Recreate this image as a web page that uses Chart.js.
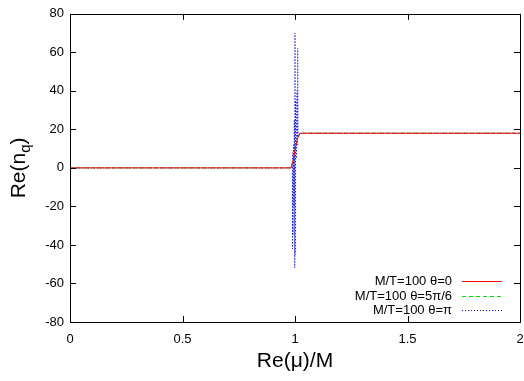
<!DOCTYPE html>
<html>
<head>
<meta charset="utf-8">
<script src="https://cdn.jsdelivr.net/npm/chart.js@4/dist/chart.umd.min.js"></script>
<style>
	body { margin: 0; background: #fff; }
</style>
</head>
<body>
<canvas id="myChart" width="524" height="381"></canvas>
<script>
// Data
var xTicks  = [0, 0.5, 1, 1.5, 2];
var yTicks  = [-80, -60, -40, -20, 0, 20, 40, 60, 80];

var labels  = ['M/T=100 \u03b8=0', 'M/T=100 \u03b8=5\u03c0/6', 'M/T=100 \u03b8=\u03c0'];
var colors  = ['#ff0000', '#00dd00', '#0000ff'];
var dashes  = [[], [4, 3], [1, 2]];

// theta = 0
var muRed   = [0, 0.982, 0.99, 1.0, 1.01, 1.022, 2];
var nRed    = [0, 0,     3,    9,   15,   18,    18];

// theta = 5pi/6
var muGreen = [0, 0.982, 0.99, 1.0, 1.01, 1.022, 2];
var nGreen  = [0, 0,     3.5,  9.5, 15,   18,    18];

// theta = pi (oscillates near mu = M)
var muBlue  = [0, 0.985, 0.988, 0.989, 0.990, 0.991, 0.993, 0.995, 0.997, 0.999, 1.000, 1.001, 1.003, 1.006, 1.009, 1.011, 1.012, 1.014, 1.018, 1.022, 2];
var nBlue   = [0, 0,     1,     -42,   8,     -35,   12,    -20,   25,    -52,   70,    -45,   35,    5,     40,    12,    62,    16,    17,    18,    18];

var FONT = "'Liberation Sans', Arial, sans-serif";

function pts(xs, ys) {
	return xs.map((v, i) => ({ x: v, y: ys[i] }));
}

// gnuplot style frame, inward ticks, legend and axis titles
var gnuplotBits = {
	id : 'gnuplotBits',
	afterDraw(chart) {
		var ctx = chart.ctx;
		var a   = chart.chartArea;
		var sx  = chart.scales.x;
		var sy  = chart.scales.y;

		ctx.save();
		ctx.strokeStyle = '#000';
		ctx.lineWidth   = 1;
		ctx.strokeRect(Math.round(a.left) + 0.5, Math.round(a.top) + 0.5,
			Math.round(a.right - a.left), Math.round(a.bottom - a.top));

		ctx.beginPath();
		xTicks.forEach(v => {
			var px = Math.round(sx.getPixelForValue(v)) + 0.5;
			ctx.moveTo(px, a.bottom); ctx.lineTo(px, a.bottom - 6);
			ctx.moveTo(px, a.top);    ctx.lineTo(px, a.top + 6);
		});
		yTicks.forEach(v => {
			var py = Math.round(sy.getPixelForValue(v)) + 0.5;
			ctx.moveTo(a.left, py);  ctx.lineTo(a.left + 6, py);
			ctx.moveTo(a.right, py); ctx.lineTo(a.right - 6, py);
		});
		ctx.stroke();

		// legend, bottom right inside the frame
		ctx.font = '13px ' + FONT;
		ctx.textAlign = 'right';
		ctx.textBaseline = 'middle';
		labels.forEach((txt, i) => {
			var ly = Math.round(a.bottom - 41 + i * 14.5);
			ctx.fillStyle = '#000';
			ctx.fillText(txt, a.right - 68, ly);
			if (i === 0) {
				ctx.fillStyle = colors[i];
				ctx.fillRect(a.right - 58, ly, 40, 1);
			} else {
				ctx.beginPath();
				ctx.lineWidth = 1;
				ctx.strokeStyle = colors[i];
				ctx.setLineDash(dashes[i]);
				ctx.moveTo(a.right - 58, ly + 0.5);
				ctx.lineTo(a.right - 18, ly + 0.5);
				ctx.stroke();
			}
		});
		ctx.setLineDash([]);

		// x title
		ctx.fillStyle = '#000';
		ctx.font = '21px ' + FONT;
		ctx.textAlign = 'center';
		ctx.textBaseline = 'alphabetic';
		ctx.fillText('Re(\u03bc)/M', (a.left + a.right) / 2, 367);

		// y title with subscript
		ctx.translate(25, (a.top + a.bottom) / 2);
		ctx.rotate(-Math.PI / 2);
		var p1 = 'Re(n', p2 = 'q', p3 = ')';
		ctx.font = '21px ' + FONT;
		var w1 = ctx.measureText(p1).width;
		var w3 = ctx.measureText(p3).width;
		ctx.font = '15px ' + FONT;
		var w2 = ctx.measureText(p2).width;
		var x0 = -(w1 + w2 + w3) / 2;
		ctx.textAlign = 'left';
		ctx.font = '21px ' + FONT;
		ctx.fillText(p1, x0, 0);
		ctx.font = '15px ' + FONT;
		ctx.fillText(p2, x0 + w1, 5);
		ctx.font = '21px ' + FONT;
		ctx.fillText(p3, x0 + w1 + w2, 0);
		ctx.restore();
	}
};

var ctx = document.getElementById('myChart');
var myChart = new Chart(ctx, {
	type : 'scatter',
	data : {
		datasets : [{
			label       : labels[0],
			data        : pts(muRed, nRed),
			showLine    : true,
			borderColor : colors[0],
			borderWidth : 1,
			pointRadius : 0
		},{
			label       : labels[1],
			data        : pts(muGreen, nGreen),
			showLine    : true,
			borderColor : colors[1],
			borderDash  : dashes[1],
			borderWidth : 1,
			pointRadius : 0
		},{
			label       : labels[2],
			data        : pts(muBlue, nBlue),
			showLine    : true,
			borderColor : colors[2],
			borderDash  : dashes[2],
			borderWidth : 1,
			pointRadius : 0
		}]
	},
	options : {
		responsive : false,
		animation  : false,
		layout     : { padding : { top : 6, right : 4, left : 0, bottom : 0 } },
		plugins    : {
			legend  : { display : false },
			tooltip : { enabled : false }
		},
		scales : {
			x : {
				type : 'linear',
				min  : 0,
				max  : 2,
				afterBuildTicks : (s) => { s.ticks = xTicks.map(v => ({ value : v })); },
				afterFit : (s) => { s.height = 59; s.paddingLeft = 0; s.paddingRight = 0; },
				grid   : { display : false, drawTicks : false },
				border : { display : false },
				ticks  : { color : '#000', padding : 10, maxRotation : 0, callback : (v) => String(v), font : { size : 13, family : FONT } }
			},
			y : {
				type : 'linear',
				min  : -80,
				max  : 80,
				afterBuildTicks : (s) => { s.ticks = yTicks.map(v => ({ value : v })); },
				afterFit : (s) => { s.width = 70; },
				grid   : { display : false, drawTicks : false },
				border : { display : false },
				ticks  : { color : '#000', padding : 6, callback : (v) => String(v), font : { size : 13, family : FONT } }
			}
		}
	},
	plugins : [gnuplotBits]
});
</script>
</body>
</html>
